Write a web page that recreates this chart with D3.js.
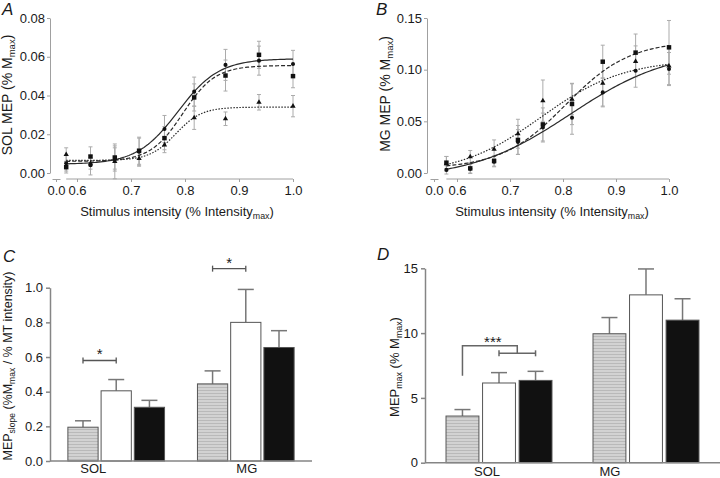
<!DOCTYPE html>
<html><head><meta charset="utf-8">
<script src="https://cdn.jsdelivr.net/npm/d3@7"></script>
<style>
body{margin:0;background:#fff;}
svg{font-family:"Liberation Sans",Arial,sans-serif;display:block;}
</style></head><body>
<svg id="chart" width="720" height="478"></svg>
<script>
// ---------- DATA ----------
const intensity = [0.58,0.625,0.67,0.715,0.762,0.817,0.875,0.937,1.0];
const xTicks = [0.6,0.7,0.8,0.9,1.0];

// Panel A: SOL MEP
const solSolid  = [0.005,0.004,0.007,0.011,0.0227,0.042,0.0558,0.058,0.0563];
const solDashed = [0.003,0.0085,0.008,0.0115,0.018,0.039,0.0503,0.061,0.050];
const solDotted = [0.0095,0.005,0.006,0.0075,0.0145,0.0285,0.028,0.0365,0.0345];
const solErrSolid  = [0.004,0.005,0.006,0.007,0.007,0.0075,0.008,0.0075,0.007];
const solErrDashed = [0.003,0.005,0.006,0.007,0.006,0.007,0.008,0.007,0.006];
const solErrDotted = [0.0035,0.003,0.009,0.004,0.004,0.006,0.0035,0.004,0.0055];
const solYTicks = [0,0.02,0.04,0.06,0.08];
// Boltzmann fit parameters: [bottom, top, x50, slope]
const solFitSolid  = [0.0045,0.059,0.787,0.038];
const solFitDashed = [0.006,0.0555,0.796,0.030];
const solFitDotted = [0.0065,0.034,0.783,0.024];

// Panel B: MG MEP
const mgSolid  = [0.003,0.004,0.011,0.030,0.044,0.0535,0.078,0.099,0.1006];
const mgDashed = [0.010,0.0045,0.0116,0.032,0.047,0.0668,0.1077,0.1165,0.1216];
const mgDotted = [0.009,0.0158,0.023,0.038,0.070,0.0713,0.0868,0.108,0.1035];
const mgErrSolid  = [0.004,0.004,0.005,0.012,0.014,0.016,0.014,0.016,0.016];
const mgErrDashed = [0.006,0.005,0.005,0.014,0.016,0.020,0.016,0.018,0.026];
const mgErrDotted = [0.007,0.006,0.009,0.014,0.020,0.015,0.022,0.015,0.018];
const mgYTicks = [0,0.05,0.10,0.15];
const mgFitSolid  = [-0.006,0.12,0.814,0.094];
const mgFitDashed = [0.004,0.128,0.805,0.0606];
const mgFitDotted = [-0.002,0.11,0.7585,0.0777];

// Panels C & D: bars
const muscles = ["SOL","MG"];
const conditions = ["c1","c2","c3"];
const slopeSOL = [0.195,0.405,0.31];
const slopeMG  = [0.445,0.80,0.655];
const slopeErrSOL = [0.037,0.065,0.04];
const slopeErrMG  = [0.075,0.19,0.097];
const slopeYTicks = [0,0.2,0.4,0.6,0.8,1.0];
const maxSOL = [3.6,6.15,6.35];
const maxMG  = [9.95,12.95,11.0];
const maxErrSOL = [0.5,0.8,0.7];
const maxErrMG  = [1.25,2.0,1.65];
const maxYTicks = [0,5,10,15];
// significance
const sigC_muscle = ["SOL","MG"];
const sigC_y = [0.58,1.11];
const sigC_text = ["*","*"];
const sigD_armBottom = 6.7, sigD_top = 9.03, sigD_sub = 8.44, sigD_text = "***";

// ---------- DRAW ----------
const svg = d3.select("#chart");
const defs = svg.append("defs");
const pat = defs.append("pattern").attr("id","hatch").attr("patternUnits","userSpaceOnUse")
  .attr("width",6).attr("height",3);
pat.append("rect").attr("width",6).attr("height",3).attr("fill","#d2d2d2");
pat.append("line").attr("x1",0).attr("x2",6).attr("y1",0.5).attr("y2",0.5)
  .attr("stroke","#b9b9b9").attr("stroke-width",1);

const TXT = "#1a1a1a";
function styleAxis(g, color, width){
  g.select(".domain").attr("stroke",color).attr("stroke-width",width);
  g.selectAll(".tick line").attr("stroke",color).attr("stroke-width",width);
  g.selectAll(".tick text").attr("fill",TXT).attr("font-size",13)
   .attr("font-family","'Liberation Sans',Arial,sans-serif");
}
function boltz(p,x){ return p[0] + (p[1]-p[0])/(1+Math.exp((p[2]-x)/p[3])); }

function panelLabel(t,x,y){
  svg.append("text").attr("x",x).attr("y",y).text(t).attr("font-size",17)
    .attr("font-style","italic").attr("fill",TXT);
}
function rotTitle(x,y,parts,size){
  const t = svg.append("text").attr("transform",`translate(${x},${y}) rotate(-90)`)
    .attr("text-anchor","middle").attr("font-size",size).attr("fill",TXT);
  parts.forEach(p=>{
    const s = t.append("tspan").text(p[0]);
    if(p[1]==="sub") s.attr("font-size",size*0.68).attr("dy",3);
    if(p[1]==="up") s.attr("dy",-3);
  });
  return t;
}
function hTitle(x,y,parts,size){
  const t = svg.append("text").attr("x",x).attr("y",y)
    .attr("text-anchor","middle").attr("font-size",size).attr("fill",TXT);
  parts.forEach(p=>{
    const s = t.append("tspan").text(p[0]);
    if(p[1]==="sub") s.attr("font-size",size*0.68).attr("dy",3);
    if(p[1]==="up") s.attr("dy",-3);
  });
}

function linePanel(o){
  const x = d3.scaleLinear().domain([0.6,1.0]).range(o.xr);
  const y = d3.scaleLinear().domain([0,o.yTicks[o.yTicks.length-1]]).range(o.yr);
  const g = svg.append("g");
  const ya = g.append("g").attr("transform",`translate(${o.yAxisX},0)`)
    .call(d3.axisLeft(y).tickValues(o.yTicks).tickFormat(d3.format(o.yFmt)).tickSize(3).tickSizeOuter(0).tickPadding(2));
  styleAxis(ya,"#a0a0a0",1);
  const xa = g.append("g").attr("transform",`translate(0,${o.xAxisY})`)
    .call(d3.axisBottom(x).tickValues(xTicks).tickFormat(d3.format(".1f")).tickSize(3).tickSizeOuter(0).tickPadding(4));
  xa.select(".domain").attr("d",`M${x(0.58)},0H${x(1.0)}`);
  styleAxis(xa,"#a0a0a0",1);
  const xb = d3.scaleLinear().domain([-0.01,0.01]).range([o.breakX-4,o.breakX+4]);
  const xba = g.append("g").attr("transform",`translate(0,${o.xAxisY})`)
    .call(d3.axisBottom(xb).tickValues([0]).tickFormat(d3.format(".1f")).tickSize(3).tickSizeOuter(0).tickPadding(4));
  styleAxis(xba,"#a0a0a0",1);

  const sampleX = d3.range(0.58,1.0001,0.004);
  o.series.forEach(s=>{
    const eg = g.append("g").attr("stroke","#ababab").attr("stroke-width",1);
    intensity.forEach((xi,i)=>{
      const v=s.vals[i], e=s.err[i], cx=x(xi);
      eg.append("line").attr("x1",cx).attr("x2",cx).attr("y1",y(v-e)).attr("y2",y(v+e));
      eg.append("line").attr("x1",cx-2).attr("x2",cx+2).attr("y1",y(v-e)).attr("y2",y(v-e));
      eg.append("line").attr("x1",cx-2).attr("x2",cx+2).attr("y1",y(v+e)).attr("y2",y(v+e));
    });
  });
  o.series.forEach(s=>{
    const pts = sampleX.map(xx=>[x(xx),y(boltz(s.fit,xx))]);
    g.append("path").attr("d",d3.line()(pts)).attr("fill","none")
      .attr("stroke","#2a2a2a").attr("stroke-width",1.2).attr("stroke-dasharray",s.dash);
  });
  o.series.forEach(s=>{
    const sym = d3.symbol().type(s.sym).size(s.size);
    g.append("g").selectAll("path").data(intensity).join("path")
      .attr("transform",(d,i)=>`translate(${x(d)},${y(s.vals[i])})`)
      .attr("d",sym).attr("fill","#111");
  });
}

linePanel({xr:[77,293], yr:[173,18], yTicks:solYTicks, yFmt:".2f", yAxisX:50, xAxisY:179, breakX:56,
  series:[
    {vals:solSolid,err:solErrSolid,fit:solFitSolid,dash:null,sym:d3.symbolCircle,size:13},
    {vals:solDashed,err:solErrDashed,fit:solFitDashed,dash:"4,2",sym:d3.symbolSquare,size:20},
    {vals:solDotted,err:solErrDotted,fit:solFitDotted,dash:"1.5,1.5",sym:d3.symbolTriangle,size:12}
  ]});
linePanel({xr:[457,669], yr:[173,18], yTicks:mgYTicks, yFmt:".2f", yAxisX:427, xAxisY:179, breakX:434,
  series:[
    {vals:mgSolid,err:mgErrSolid,fit:mgFitSolid,dash:null,sym:d3.symbolCircle,size:13},
    {vals:mgDashed,err:mgErrDashed,fit:mgFitDashed,dash:"4,2",sym:d3.symbolSquare,size:20},
    {vals:mgDotted,err:mgErrDotted,fit:mgFitDotted,dash:"1.5,1.5",sym:d3.symbolTriangle,size:12}
  ]});

panelLabel("A",2,15); panelLabel("B",376,15);
rotTitle(12,95,[["SOL MEP (% M"],["max","sub"],[")","up"]],14);
rotTitle(390,94,[["MG MEP (% M"],["max","sub"],[")","up"]],14);
hTitle(177,216,[["Stimulus intensity (% Intensity"],["max","sub"],[")","up"]],13);
hTitle(552,216,[["Stimulus intensity (% Intensity"],["max","sub"],[")","up"]],13);

// ---------- bar panels ----------
const fills = ["url(#hatch)","#ffffff","#111111"];
function barPanel(o){
  const g = svg.append("g");
  const x0 = d3.scaleBand().domain(muscles).range(o.xr).paddingInner(o.pIn).paddingOuter(o.pOut);
  const x1 = d3.scaleBand().domain(conditions).range([0,x0.bandwidth()]).paddingInner(o.pBar).paddingOuter(0);
  const y = d3.scaleLinear().domain([0,o.yTicks[o.yTicks.length-1]]).range(o.yr);
  const vals = {SOL:o.sol, MG:o.mg}, errs = {SOL:o.solErr, MG:o.mgErr};
  muscles.forEach(m=>{
    conditions.forEach((c,i)=>{
      const cx = x0(m)+x1(c)+x1.bandwidth()/2, v=vals[m][i], e=errs[m][i];
      g.append("line").attr("x1",cx).attr("x2",cx).attr("y1",y(v)).attr("y2",y(v+e))
        .attr("stroke","#777").attr("stroke-width",1.5);
      g.append("line").attr("x1",cx-o.cap).attr("x2",cx+o.cap).attr("y1",y(v+e)).attr("y2",y(v+e))
        .attr("stroke","#777").attr("stroke-width",1.5);
    });
    g.append("g").selectAll("rect").data(conditions).join("rect")
      .attr("x",c=>x0(m)+x1(c)).attr("width",x1.bandwidth())
      .attr("y",(c,i)=>y(vals[m][i])).attr("height",(c,i)=>y(0)-y(vals[m][i]))
      .attr("fill",(c,i)=>fills[i]).attr("stroke","#555").attr("stroke-width",1);
  });
  const ya = g.append("g").attr("transform",`translate(${o.xr[0]},0)`)
    .call(d3.axisLeft(y).tickValues(o.yTicks).tickFormat(d3.format(o.yFmt)).tickSize(4).tickSizeOuter(0).tickPadding(3));
  styleAxis(ya,"#858585",1.5);
  const xa = g.append("g").attr("transform",`translate(0,${o.yr[0]})`)
    .call(d3.axisBottom(x0).tickSize(0).tickSizeOuter(0).tickPadding(o.labPad));
  xa.select(".domain").attr("d",`M${o.xr[0]},0H${o.xr[1]}`);
  styleAxis(xa,"#858585",1.5);
  xa.selectAll(".tick text").attr("dx",(d,i)=>o.labOff[i]);
  return {x0,x1,y,g};
}

const C = barPanel({xr:[50,312], yr:[461,287.7], pIn:0.254, pOut:0.138, pBar:0.09, cap:8,
  sol:slopeSOL, mg:slopeMG, solErr:slopeErrSOL, mgErr:slopeErrMG, yTicks:slopeYTicks, yFmt:".1f",
  labPad:3, labOff:[-23,1]});
const D = barPanel({xr:[425,720], yr:[462.7,268.3], pIn:0.279, pOut:0.143, pBar:0.1, cap:8,
  sol:maxSOL, mg:maxMG, solErr:maxErrSOL, mgErr:maxErrMG, yTicks:maxYTicks, yFmt:"d",
  labPad:4, labOff:[-12,-36]});

sigC_muscle.forEach((m,k)=>{
  const a = C.x0(m)+C.x1("c1")+C.x1.bandwidth()/2, b = C.x0(m)+C.x1("c2")+C.x1.bandwidth()/2, yy=C.y(sigC_y[k]);
  const sg = C.g.append("g").attr("stroke","#555").attr("stroke-width",1.3);
  sg.append("line").attr("x1",a).attr("x2",b).attr("y1",yy).attr("y2",yy);
  sg.append("line").attr("x1",a).attr("x2",a).attr("y1",yy-3).attr("y2",yy+3);
  sg.append("line").attr("x1",b).attr("x2",b).attr("y1",yy-3).attr("y2",yy+3);
  C.g.append("text").attr("x",(a+b)/2).attr("y",yy-1).attr("text-anchor","middle")
    .attr("font-size",15).attr("fill",TXT).text(sigC_text[k]);
});
{
  const cx = c => D.x0("SOL")+D.x1(c)+D.x1.bandwidth()/2;
  const a = cx("c1"), b = cx("c2"), c = cx("c3"), j = (b+c)/2;
  const sg = D.g.append("g").attr("stroke","#666").attr("stroke-width",1.5).attr("fill","none");
  sg.append("path").attr("d",`M${a},${D.y(sigD_armBottom)}V${D.y(sigD_top)}H${j}V${D.y(sigD_sub)}`);
  sg.append("line").attr("x1",b).attr("x2",c).attr("y1",D.y(sigD_sub)).attr("y2",D.y(sigD_sub));
  sg.append("line").attr("x1",b).attr("x2",b).attr("y1",D.y(sigD_sub)-3).attr("y2",D.y(sigD_sub)+3);
  sg.append("line").attr("x1",c).attr("x2",c).attr("y1",D.y(sigD_sub)-3).attr("y2",D.y(sigD_sub)+3);
  D.g.append("text").attr("x",(a+j)/2+3).attr("y",D.y(sigD_top)+1).attr("text-anchor","middle")
    .attr("font-size",15).attr("fill",TXT).text(sigD_text);
}

panelLabel("C",3,262); panelLabel("D",377,260);
rotTitle(12,366,[["MEP"],["slope","sub"],[" (%M","up"],["max","sub"],[" / % MT intensity)","up"]],12.5);
rotTitle(399,367,[["MEP"],["max","sub"],[" (% M","up"],["max","sub"],[")","up"]],13);
</script>
</body></html>
